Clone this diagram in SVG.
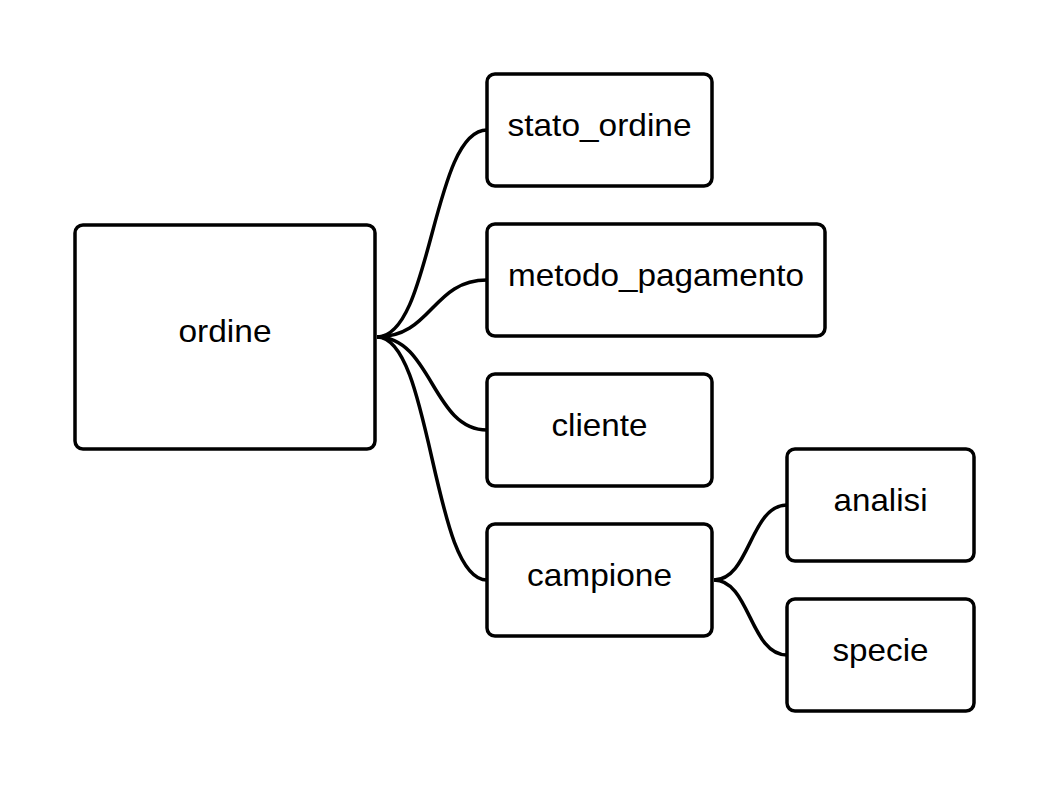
<svg xmlns="http://www.w3.org/2000/svg" width="1050" height="788" viewBox="0 0 1050 788">
<style>
.box{fill:#fff;stroke:#000;stroke-width:3.5}
.lbl{font-family:"Liberation Sans",Arial,sans-serif;font-size:32px;fill:#000;text-anchor:middle}
.con{fill:none;stroke:#000;stroke-width:3.5}
</style>
<rect width="1050" height="788" fill="#fff"/>
<g id="connectors">
<path class="con" d="M377,337 C432,337 432,130 487,130"/>
<path class="con" d="M377,337 C432,337 432,280 487,280"/>
<path class="con" d="M377,337 C432,337 432,430 487,430"/>
<path class="con" d="M377,337 C432,337 432,580 487,580"/>
<path class="con" d="M714,580 C750,580 750,505 787,505"/>
<path class="con" d="M714,580 C750,580 750,655 787,655"/>
</g>
<g id="ordine"><rect class="box" x="75" y="225" width="300" height="224" rx="8"/><text class="lbl" x="225" y="342" textLength="93" lengthAdjust="spacingAndGlyphs">ordine</text></g>
<g id="stato_ordine"><rect class="box" x="487" y="74" width="225" height="112" rx="8"/><text class="lbl" x="599.5" y="136" textLength="184" lengthAdjust="spacingAndGlyphs">stato_ordine</text></g>
<g id="metodo_pagamento"><rect class="box" x="487" y="224" width="338" height="112" rx="8"/><text class="lbl" x="656" y="286" textLength="296" lengthAdjust="spacingAndGlyphs">metodo_pagamento</text></g>
<g id="cliente"><rect class="box" x="487" y="374" width="225" height="112" rx="8"/><text class="lbl" x="599.5" y="436" textLength="96" lengthAdjust="spacingAndGlyphs">cliente</text></g>
<g id="campione"><rect class="box" x="487" y="524" width="225" height="112" rx="8"/><text class="lbl" x="599.5" y="586" textLength="145" lengthAdjust="spacingAndGlyphs">campione</text></g>
<g id="analisi"><rect class="box" x="787" y="449" width="187" height="112" rx="8"/><text class="lbl" x="880.5" y="511" textLength="94" lengthAdjust="spacingAndGlyphs">analisi</text></g>
<g id="specie"><rect class="box" x="787" y="599" width="187" height="112" rx="8"/><text class="lbl" x="880.5" y="661" textLength="96" lengthAdjust="spacingAndGlyphs">specie</text></g>
</svg>
